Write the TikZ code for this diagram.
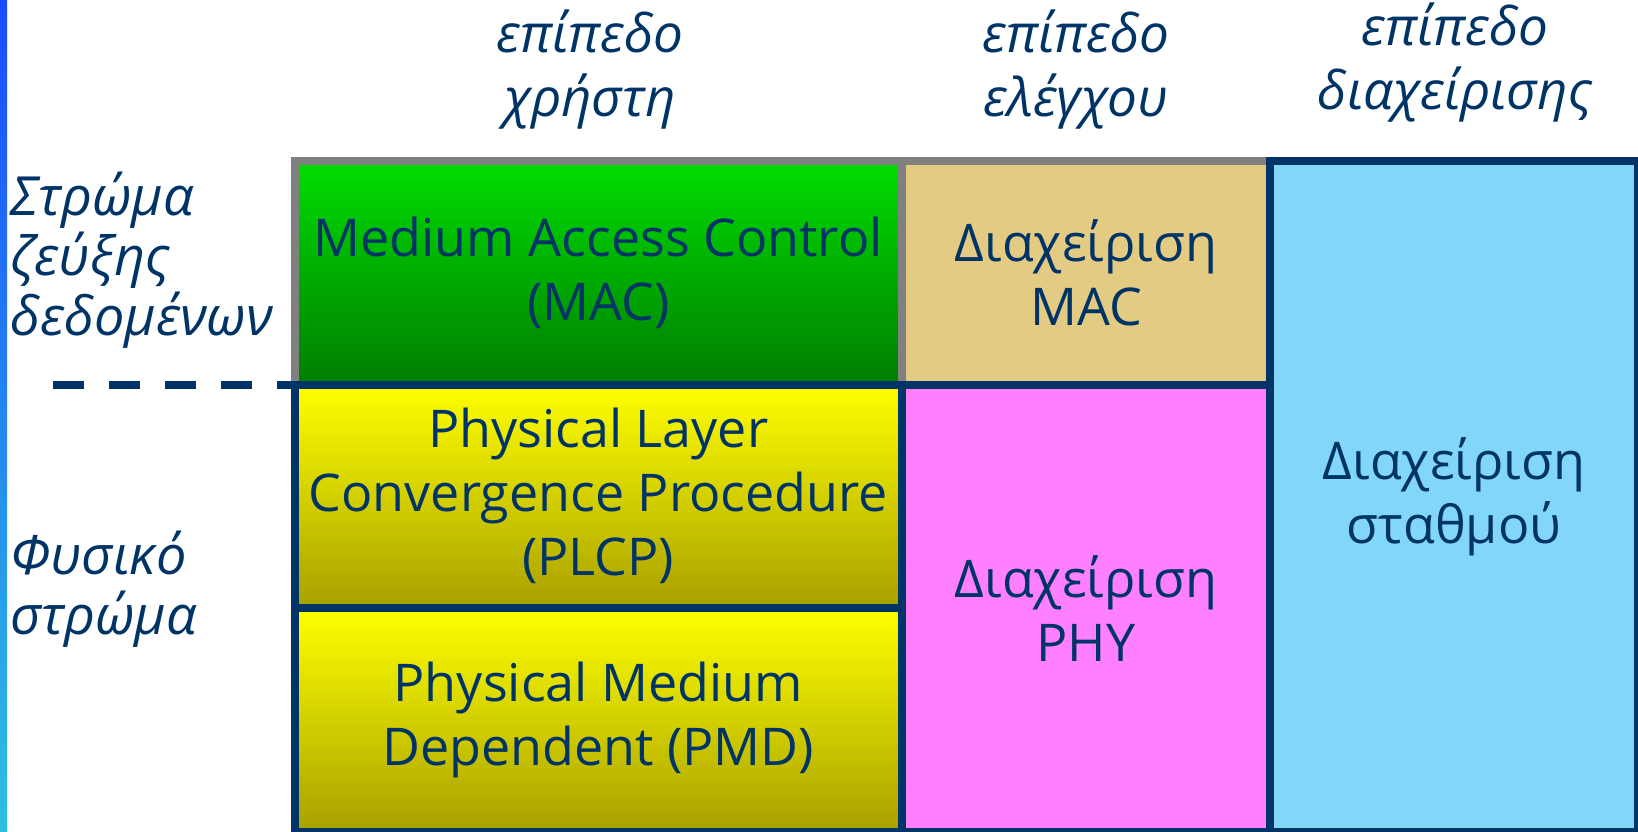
\documentclass[tikz,border=0pt]{standalone}
\usepackage{fontspec}
\setmainfont{Open Sans}
\definecolor{navy}{HTML}{003366}
\definecolor{bordergray}{HTML}{808080}
\definecolor{greentop}{HTML}{00DD00}
\definecolor{greenbot}{HTML}{007D00}
\definecolor{yeltop}{HTML}{FFFF00}
\definecolor{yelbot}{HTML}{A8A000}
\definecolor{tan}{HTML}{E4CB84}
\definecolor{magent}{HTML}{FF80FF}
\definecolor{skyb}{HTML}{82D6F8}
\definecolor{stripa}{HTML}{1A4BFF}
\definecolor{stripb}{HTML}{2EC0E0}
\begin{document}
\begin{tikzpicture}[x=1pt,y=-1pt,
  box/.style={inner sep=0pt,outer sep=0pt,align=center,text=navy,
    font=\fontsize{52}{64}\selectfont},
  hdr/.style={align=center,text=navy,inner sep=0pt,
    font=\fontsize{53}{64}\selectfont\itshape},
  side/.style={align=left,text=navy,inner sep=0pt,anchor=west,
    font=\fontsize{54}{60}\selectfont\itshape},
  grayline/.style={draw=bordergray,line width=8pt,line cap=rect,line join=miter},
  navyline/.style={draw=navy,line width=8pt,line cap=rect,line join=miter},
  dashline/.style={draw=navy,line width=8pt,dash pattern=on 31.6pt off 24.4pt}]
\useasboundingbox (0,0) rectangle (1638,832);
\shade[top color=stripa,bottom color=stripb] (0,0) rectangle (7,832);
% boxes
\node[box,top color=greentop,bottom color=greenbot,minimum width=607.5pt,minimum height=223.5pt] (mac) at (598.25,272.75) {Medium Access Control\\(MAC)};
\node[box,fill=tan,minimum width=368pt,minimum height=223.5pt] (macm) at (1086,272.75) {Διαχείριση\\MAC};
\node[box,top color=yeltop,bottom color=yelbot,minimum width=607.5pt,minimum height=223.5pt] (plcp) at (598.25,496.25) {Physical Layer\\Convergence Procedure\\(PLCP)};
\node[box,top color=yeltop,bottom color=yelbot,minimum width=607.5pt,minimum height=224pt] (pmd) at (598.25,720) {Physical Medium\\Dependent (PMD)};
\node[box,fill=magent,minimum width=368pt,minimum height=447.5pt] (phym) at (1086,608.25) {Διαχείριση\\PHY};
\node[box,fill=skyb,minimum width=368pt,minimum height=671pt] (stm) at (1454,496.5) {Διαχείριση\\σταθμού};
% borders
\draw[grayline] (mac.south west) -- (mac.north west) -- (macm.north east);
\draw[grayline] (mac.north east) -- (mac.south east);
\draw[navyline] (plcp.north west) -- (pmd.south west) -- (stm.south east) -- (stm.north east) -- (stm.north west) -- (stm.south west);
\draw[navyline] (plcp.north west) -- (macm.south east);
\draw[navyline] (plcp.south west) -- (plcp.south east);
\draw[navyline] (phym.north west) -- (phym.south west);
% dashed separator
\coordinate (dstart) at (52.7,384.5);
\draw[dashline] (dstart) -- (plcp.north west);
% headers
\node[hdr] (h1) at (590,70) {επίπεδο\\χρήστη};
\node[hdr] (h2) at (1076,70) {επίπεδο\\ελέγχου};
\node[hdr] (h3) at (1455,63) {επίπεδο\\διαχείρισης};
% side labels
\node[side] (l1) at (10,260) {Στρώμα\\ζεύξης\\δεδομένων};
\node[side] (l2) at (10,589) {Φυσικό\\στρώμα};
\end{tikzpicture}
\end{document}
